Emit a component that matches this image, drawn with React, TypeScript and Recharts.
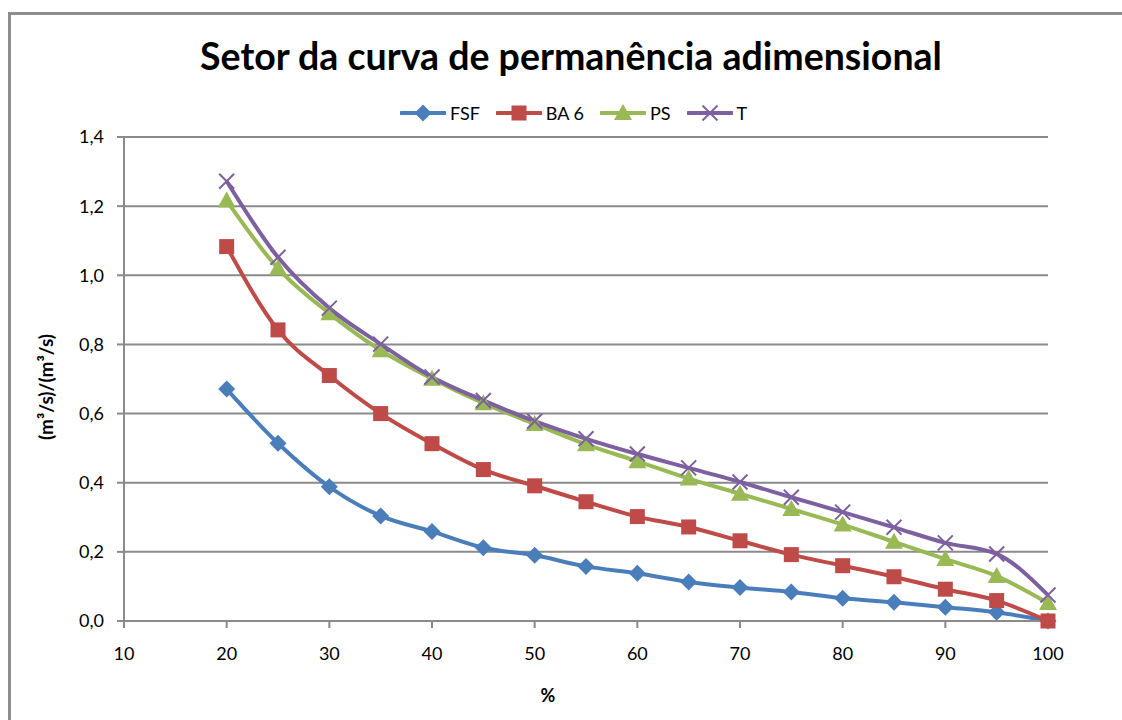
import React from 'react'
import {
  LineChart,
  Line,
  XAxis,
  YAxis,
  CartesianGrid,
} from 'recharts'

// % of time exceeded
const percent = [20, 25, 30, 35, 40, 45, 50, 55, 60, 65, 70, 75, 80, 85, 90, 95, 100]

const fsf = [0.671, 0.514, 0.388, 0.304, 0.259, 0.212, 0.19, 0.158, 0.138, 0.113, 0.097, 0.084, 0.066, 0.054, 0.04, 0.025, 0]
const ba6 = [1.083, 0.842, 0.71, 0.6, 0.513, 0.438, 0.391, 0.345, 0.302, 0.272, 0.232, 0.192, 0.16, 0.128, 0.092, 0.059, 0]
const ps = [1.216, 1.02, 0.89, 0.783, 0.701, 0.63, 0.57, 0.511, 0.462, 0.412, 0.368, 0.324, 0.279, 0.229, 0.179, 0.13, 0.052]
const t = [1.272, 1.052, 0.905, 0.801, 0.706, 0.638, 0.578, 0.527, 0.483, 0.443, 0.402, 0.358, 0.315, 0.271, 0.226, 0.194, 0.075]

const xTicks = [10, 20, 30, 40, 50, 60, 70, 80, 90, 100]
const yTicks = [0, 0.2, 0.4, 0.6, 0.8, 1.0, 1.2, 1.4]

const FONT = 'Lato, "Open Sans", sans-serif'
const GRID = '#8a8a8a'

type Shape = 'diamond' | 'square' | 'triangle' | 'cross'

const series: { key: string; name: string; color: string; shape: Shape }[] = [
  { key: 'fsf', name: 'FSF', color: '#4A7EBB', shape: 'diamond' },
  { key: 'ba6', name: 'BA 6', color: '#BE4B48', shape: 'square' },
  { key: 'ps', name: 'PS', color: '#98B954', shape: 'triangle' },
  { key: 't', name: 'T', color: '#7D60A0', shape: 'cross' },
]

const data = percent.map((p, i) => ({
  p,
  fsf: fsf[i],
  ba6: ba6[i],
  ps: ps[i],
  t: t[i],
}))

function marker(shape: Shape, color: string, cx: number, cy: number, key?: string) {
  if (shape === 'diamond') {
    const r = 8.5
    return (
      <polygon key={key} points={`${cx},${cy - r} ${cx + r},${cy} ${cx},${cy + r} ${cx - r},${cy}`} fill={color} />
    )
  }
  if (shape === 'square') {
    const s = 7.5
    return <rect key={key} x={cx - s} y={cy - s} width={s * 2} height={s * 2} fill={color} />
  }
  if (shape === 'triangle') {
    return (
      <polygon key={key} points={`${cx},${cy - 9} ${cx + 9},${cy + 7} ${cx - 9},${cy + 7}`} fill={color} />
    )
  }
  const r = 7.5
  return (
    <g key={key} stroke={color} strokeWidth={2}>
      <line x1={cx - r} y1={cy - r} x2={cx + r} y2={cy + r} />
      <line x1={cx - r} y1={cy + r} x2={cx + r} y2={cy - r} />
    </g>
  )
}

const fmt = (v: number) => v.toFixed(1).replace('.', ',')

export default function App() {
  return (
    <div
      style={{
        position: 'absolute',
        left: 0,
        top: 0,
        width: 1122,
        height: 720,
        overflow: 'hidden',
        background: '#fff',
        fontFamily: FONT,
      }}
    >
      <div
        style={{
          position: 'absolute',
          left: 8,
          top: 12,
          width: 1200,
          height: 800,
          border: '3px solid #8d8d8d',
        }}
      />
      <div
        style={{
          position: 'absolute',
          left: 0,
          width: 1142,
          top: 55,
          transform: 'translateY(-50%)',
          textAlign: 'center',
          fontSize: 37.5,
          fontWeight: 700,
          color: '#000',
        }}
      >
        Setor da curva de permanência adimensional
      </div>

      <div style={{ position: 'absolute', left: 400, top: 102, display: 'flex', alignItems: 'center', fontSize: 18 }}>
        {series.map((s) => (
          <div key={s.key} style={{ display: 'flex', alignItems: 'center', marginRight: 16 }}>
            <svg width={46} height={22}>
              <line x1={1} y1={11} x2={45} y2={11} stroke={s.color} strokeWidth={4} strokeLinecap="round" />
              {marker(s.shape, s.color, 23, 11)}
            </svg>
            <span style={{ marginLeft: 4 }}>{s.name}</span>
          </div>
        ))}
      </div>

      <div
        style={{
          position: 'absolute',
          left: 45,
          top: 387,
          transform: 'translate(-50%, -50%) rotate(-90deg)',
          fontSize: 19,
          fontWeight: 700,
          whiteSpace: 'nowrap',
        }}
      >
        (m³/s)/(m³/s)
      </div>
      <div
        style={{
          position: 'absolute',
          left: 548,
          top: 695,
          transform: 'translate(-50%, -50%)',
          fontSize: 18,
          fontWeight: 700,
        }}
      >
        %
      </div>

      <div style={{ position: 'absolute', left: 0, top: 0 }}>
        <LineChart
          width={1122}
          height={720}
          data={data}
          margin={{ top: 137, right: 74, bottom: 69, left: 64 }}
        >
          <CartesianGrid vertical={false} stroke={GRID} strokeWidth={2} />
          <XAxis
            dataKey="p"
            type="number"
            domain={[10, 100]}
            ticks={xTicks}
            interval={0}
            height={30}
            stroke={GRID}
            strokeWidth={2}
            tickSize={7}
            tickMargin={19}
            tick={{ fill: '#000', fontSize: 18, fontFamily: FONT }}
          />
          <YAxis
            type="number"
            domain={[0, 1.4]}
            ticks={yTicks}
            interval={0}
            width={60}
            stroke={GRID}
            strokeWidth={2}
            tickSize={7}
            tickMargin={13}
            tickFormatter={fmt}
            tick={{ fill: '#000', fontSize: 18, fontFamily: FONT }}
          />
          {series.map((s) => (
            <Line
              key={s.key}
              dataKey={s.key}
              name={s.name}
              type="monotone"
              stroke={s.color}
              strokeWidth={4}
              isAnimationActive={false}
              dot={(props: any) => marker(s.shape, s.color, props.cx, props.cy, `${s.key}-${props.index}`)}
              activeDot={false}
            />
          ))}
        </LineChart>
      </div>
    </div>
  )
}
